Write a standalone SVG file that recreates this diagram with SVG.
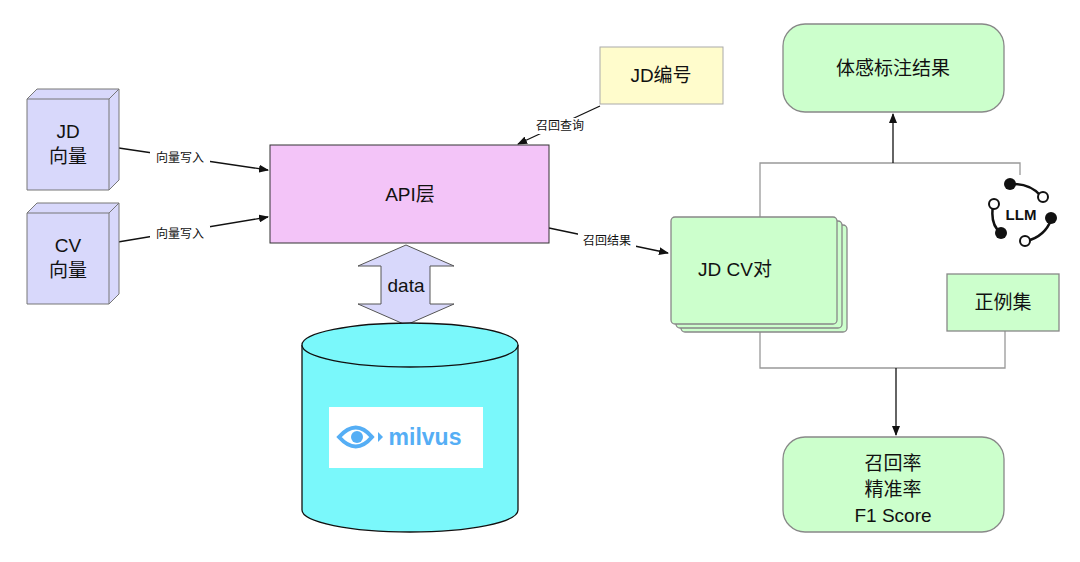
<svg xmlns="http://www.w3.org/2000/svg" width="1080" height="562" viewBox="0 0 1080 562">
<defs>
<style>
text{font-family:"Liberation Sans","Noto Sans CJK SC",sans-serif;fill:#111;text-anchor:middle}
.s{font-size:12px}.m{font-size:19px}
.ln{stroke:#111;stroke-width:1.3;fill:none}
.gl{stroke:#999;stroke-width:1.3;fill:none}
.g{fill:#ccffcc;stroke:#888;stroke-width:1.3}
</style>
<marker id="a" markerWidth="10" markerHeight="8" refX="9" refY="4" orient="auto" markerUnits="userSpaceOnUse"><path d="M0,0L10,4L0,8z" fill="#111"/></marker>
</defs>
<rect width="1080" height="562" fill="#fff"/>
<g id="connectors">
<line class="ln" x1="112" y1="147" x2="268" y2="170" marker-end="url(#a)"/>
<line class="ln" x1="112" y1="243" x2="268" y2="217" marker-end="url(#a)"/>
<line class="ln" x1="549" y1="228" x2="668" y2="253" marker-end="url(#a)"/>
<line class="ln" x1="600" y1="106" x2="518" y2="144" marker-end="url(#a)"/>
<polyline class="gl" points="760,217 760,163 1020,163 1020,175"/>
<line class="ln" x1="893" y1="163" x2="893" y2="114" marker-end="url(#a)"/>
<polyline class="gl" points="760,332 760,368 1005,368 1005,331"/>
<line class="ln" x1="896" y1="368" x2="896" y2="435" marker-end="url(#a)"/>
<rect x="150" y="150" width="60" height="16" fill="#fff"/><text class="s" x="180" y="162">向量写入</text>
<rect x="150" y="226" width="60" height="16" fill="#fff"/><text class="s" x="180" y="238">向量写入</text>
<rect x="578" y="232" width="58" height="16" fill="#fff"/><text class="s" x="607" y="245">召回结果</text>
<rect x="532" y="118" width="56" height="16" fill="#fff"/><text class="s" x="560" y="130">召回查询</text>
</g>
<g id="jd-vec">
<path d="M27,99L37,89L119,89L119,180L109,190L27,190z" fill="#d8d8fb" stroke="#777"/>
<path d="M27,99L109,99L109,190M109,99L119,89" fill="none" stroke="#777"/>
<text class="m" x="68" y="138">JD</text><text class="m" x="68" y="163">向量</text>
</g>
<g id="cv-vec">
<path d="M27,213L37,203L119,203L119,294L109,304L27,304z" fill="#d8d8fb" stroke="#777"/>
<path d="M27,213L109,213L109,304M109,213L119,203" fill="none" stroke="#777"/>
<text class="m" x="68" y="252">CV</text><text class="m" x="68" y="277">向量</text>
</g>
<g id="api"><rect x="270" y="145" width="279" height="98" fill="#f3c4f8" stroke="#333"/><text class="m" x="410" y="201">API层</text></g>
<g id="data"><path d="M406,245L454,266L430,266L430,304L454,304L406,325L358,304L381,304L381,266L358,266z" fill="#d8d8fb" stroke="#555"/><text class="m" x="406" y="292">data</text></g>
<g id="milvus">
<path d="M302,345L302,510A108,22 0 0 0 518,510L518,345" fill="#7af8fb" stroke="#111" stroke-width="1.3"/>
<ellipse cx="410" cy="345" rx="108" ry="22" fill="#7af8fb" stroke="#111" stroke-width="1.3"/>
<rect x="329" y="407" width="154" height="61" fill="#fff"/>
<path d="M339,437Q356,418 372,437Q356,456 339,437z" fill="none" stroke="#55aef5" stroke-width="4"/>
<circle cx="357" cy="437" r="6" fill="#55aef5"/>
<path d="M378,432L383,437L378,442z" fill="#55aef5"/>
<text x="425" y="445" style="font-size:23px;font-weight:bold;fill:#55aef5">milvus</text>
</g>
<g id="jdno"><rect x="600" y="47" width="123" height="57" fill="#fffccc" stroke="#aaa"/><text class="m" x="661" y="82">JD编号</text></g>
<g id="label"><rect x="783" y="24" width="221" height="88" rx="22" class="g" stroke="#333"/><text class="m" x="893" y="75">体感标注结果</text></g>
<g id="pairs">
<rect x="681" y="225" width="166" height="107" rx="4" class="g"/>
<rect x="676" y="221" width="166" height="107" rx="4" class="g"/>
<rect x="671" y="217" width="166" height="107" rx="4" class="g"/>
<text class="m" x="735" y="276">JD CV对</text>
</g>
<g id="llm">
<path d="M993,206Q990,225 1001,233M1010,184Q1030,183 1041,196M1051,220Q1045,236 1027,241" fill="none" stroke="#111" stroke-width="2.5"/>
<circle cx="1010" cy="184" r="6" fill="#111"/><circle cx="1043" cy="197" r="5" fill="#fff" stroke="#111" stroke-width="2"/>
<circle cx="994" cy="204" r="5" fill="#fff" stroke="#111" stroke-width="2"/><circle cx="1051" cy="218" r="6" fill="#111"/>
<circle cx="1001" cy="233" r="6" fill="#111"/><circle cx="1025" cy="241" r="5" fill="#fff" stroke="#111" stroke-width="2"/>
<text x="1021" y="220" style="font-size:15px;font-weight:bold">LLM</text>
</g>
<g id="pos"><rect x="947" y="274" width="112" height="57" class="g"/><text class="m" x="1003" y="309">正例集</text></g>
<g id="metrics"><rect x="783" y="437" width="221" height="95" rx="22" class="g" stroke="#333"/>
<text class="m" x="893" y="470">召回率</text><text class="m" x="893" y="496">精准率</text><text class="m" x="893" y="522">F1 Score</text></g>
</svg>
